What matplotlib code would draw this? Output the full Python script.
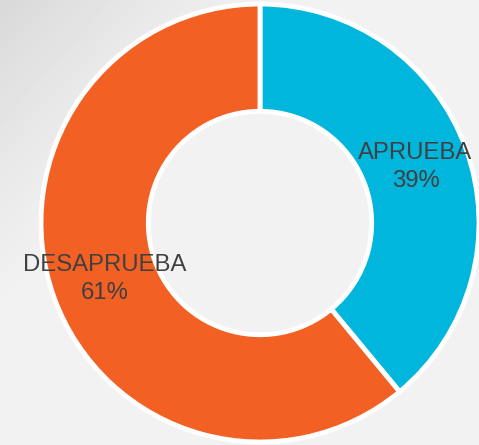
import numpy as np
import matplotlib
matplotlib.use("Agg")
import matplotlib.pyplot as plt

categories = ["APRUEBA", "DESAPRUEBA"]
values = [39, 61]
colors = ["#00B6DD", "#F26024"]

W, H, DPI = 479, 445, 100
fig = plt.figure(figsize=(W / DPI, H / DPI), dpi=DPI)
fig.patch.set_facecolor("#F2F2F2")

# subtle background gradient (top-left darker)
bg = fig.add_axes([0, 0, 1, 1])
yy, xx = np.mgrid[0:H, 0:W]
d = (xx + yy * 0.9) / 300.0
shade = np.clip(1 - d, 0, 1)
img = 0.949 - 0.10 * shade ** 1.3
bg.imshow(img, cmap="gray", vmin=0, vmax=1, extent=[0, W, H, 0], aspect="auto")
bg.set_xlim(0, W)
bg.set_ylim(H, 0)
bg.axis("off")

cx, cy, R = 260, 223, 219
ax = fig.add_axes([(cx - R) / W, 1 - (cy + R) / H, 2 * R / W, 2 * R / H])
ax.set_facecolor("none")
labels = [f"{c}\n{v}%" for c, v in zip(categories, values)]
wedges, texts = ax.pie(values, colors=colors, startangle=90, counterclock=False,
                       radius=1.0, labels=labels, labeldistance=0.755,
                       wedgeprops=dict(width=0.49, edgecolor="white", linewidth=3.5),
                       textprops=dict(color="#404040", fontsize=17.2,
                                      family=["Liberation Sans", "DejaVu Sans"],
                                      ha="center", va="center", linespacing=1.38))
for t in texts:
    t.set_horizontalalignment("center")
ax.set_xlim(-1, 1)
ax.set_ylim(-1, 1)
ax.set_aspect("equal")
ax.axis("off")

fig.savefig("out.png", dpi=DPI, facecolor=fig.get_facecolor())
